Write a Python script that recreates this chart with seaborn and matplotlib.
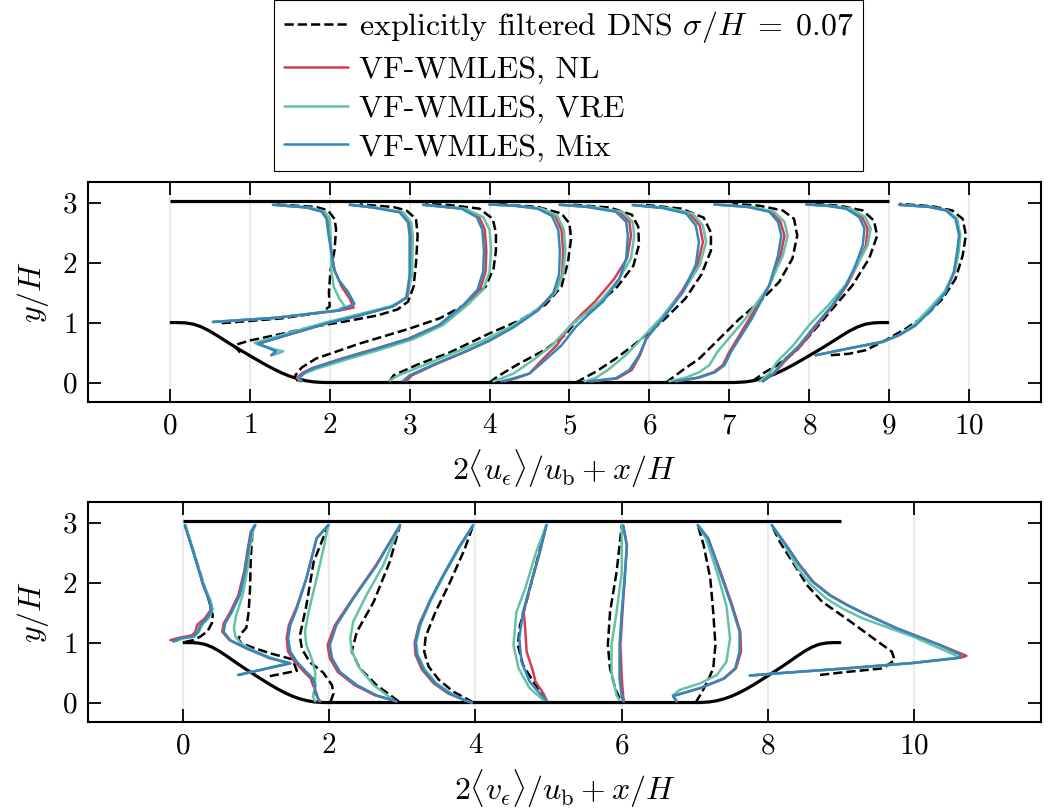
import numpy as np
import matplotlib
matplotlib.use("Agg")
import matplotlib.pyplot as plt
from matplotlib.lines import Line2D
import seaborn as sns

# ---------------------------------------------------------------------------
# Geometry of the periodic hill channel (lengths in units of H)
# ---------------------------------------------------------------------------
hill_x = [0.0, 0.1, 0.2, 0.3, 0.4, 0.5, 0.6, 0.7, 0.8, 0.9, 1.0,
          1.1, 1.2, 1.3, 1.4, 1.5, 1.6, 1.7, 1.8, 1.93]
hill_y = [1.0, 1.0, 0.994, 0.972, 0.925, 0.857, 0.776, 0.691, 0.607, 0.527, 0.448,
          0.371, 0.295, 0.224, 0.160, 0.105, 0.062, 0.030, 0.010, 0.0]
channel_length = 9.0
channel_height = 3.036

stations = [0, 1, 2, 3, 4, 5, 6, 7, 8]

# ---------------------------------------------------------------------------
# Streamwise velocity profiles: station -> (y/H, 2<u>/u_b)
# ---------------------------------------------------------------------------
u_dns = {
    0: ([0.99, 1.07, 1.17, 1.27, 1.50, 1.87, 2.20, 2.56, 2.73, 2.87, 2.93, 2.97],
        [0.65, 1.40, 1.90, 2.00, 1.99, 2.01, 2.06, 2.08, 2.06, 1.98, 1.83, 1.33]),
    1: ([0.50, 0.62, 0.70, 0.84, 0.93, 1.02, 1.12, 1.22, 1.35, 1.60, 2.00, 2.45, 2.73, 2.87, 2.93, 2.97],
        [-0.12, -0.20, 0.0, 0.50, 0.79, 1.20, 1.60, 1.85, 1.98, 2.05, 2.08, 2.10, 2.08, 1.96, 1.79, 1.375]),
    2: ([0.02, 0.12, 0.25, 0.40, 0.65, 0.90, 1.07, 1.30, 1.60, 1.90, 2.20, 2.50, 2.73, 2.90, 2.96, 2.98],
        [-0.40, -0.43, -0.35, -0.17, 0.375, 1.00, 1.375, 1.70, 1.95, 2.05, 2.08, 2.08, 2.04, 1.875, 1.50, 1.20]),
    3: ([0.02, 0.12, 0.30, 0.50, 0.82, 1.05, 1.30, 1.60, 2.00, 2.40, 2.65, 2.82, 2.93, 2.98],
        [-0.25, -0.20, 0.10, 0.50, 1.00, 1.40, 1.70, 1.90, 1.98, 2.02, 2.00, 1.90, 1.60, 1.10]),
    4: ([0.0, 0.10, 0.30, 0.55, 0.80, 1.05, 1.30, 1.60, 1.95, 2.30, 2.60, 2.80, 2.92, 2.97],
        [0.0, 0.10, 0.35, 0.70, 0.95, 1.10, 1.35, 1.60, 1.80, 1.87, 1.86, 1.78, 1.50, 1.00]),
    5: ([0.0, 0.18, 0.40, 0.62, 0.84, 1.07, 1.40, 1.80, 2.20, 2.50, 2.75, 2.90, 2.97],
        [0.08, 0.33, 0.58, 0.80, 1.00, 1.20, 1.45, 1.65, 1.77, 1.77, 1.68, 1.40, 0.90]),
    6: ([0.0, 0.21, 0.40, 0.73, 1.06, 1.34, 1.68, 2.07, 2.45, 2.73, 2.87, 2.95, 2.98],
        [0.21, 0.42, 0.625, 0.875, 1.125, 1.375, 1.625, 1.79, 1.85, 1.81, 1.67, 1.375, 1.04]),
    7: ([0.02, 0.15, 0.29, 0.55, 0.90, 1.29, 1.62, 2.07, 2.45, 2.70, 2.87, 2.95, 2.98],
        [0.29, 0.42, 0.60, 0.85, 1.08, 1.33, 1.54, 1.75, 1.85, 1.81, 1.67, 1.375, 1.04]),
    8: ([0.455, 0.48, 0.54, 0.71, 0.90, 1.12, 1.40, 1.73, 2.12, 2.46, 2.73, 2.87, 2.94, 2.98],
        [0.27, 0.50, 0.71, 0.96, 1.21, 1.46, 1.67, 1.83, 1.92, 1.96, 1.92, 1.79, 1.54, 1.125]),
}

u_nl = {
    0: ([1.01, 1.08, 1.20, 1.25, 1.40, 1.60, 1.87, 2.18, 2.51, 2.73, 2.85, 2.92, 2.965],
        [0.54, 1.33, 2.12, 2.30, 2.25, 2.15, 2.06, 2.02, 1.99, 1.97, 1.91, 1.72, 1.29]),
    1: ([0.455, 0.52, 0.58, 0.645, 0.82, 1.00, 1.12, 1.27, 1.42, 1.79, 2.45, 2.67, 2.84, 2.92, 2.965],
        [0.27, 0.33, 0.23, 0.10, 0.54, 1.00, 1.375, 1.79, 1.97, 2.02, 2.02, 2.00, 1.89, 1.55, 1.25]),
    2: ([0.02, 0.08, 0.16, 0.24, 0.40, 0.56, 0.73, 0.96, 1.29, 1.55, 1.85, 2.20, 2.55, 2.76, 2.90, 2.965],
        [-0.38, -0.41, -0.34, -0.22, 0.15, 0.56, 0.98, 1.37, 1.68, 1.88, 1.95, 1.96, 1.94, 1.87, 1.67, 1.17]),
    3: ([0.03, 0.12, 0.30, 0.52, 0.70, 0.92, 1.20, 1.50, 1.80, 2.20, 2.55, 2.78, 2.90, 2.95, 2.97],
        [-0.04, 0.03, 0.32, 0.71, 1.00, 1.29, 1.60, 1.82, 1.91, 1.92, 1.90, 1.82, 1.63, 1.32, 1.00]),
    4: ([0.02, 0.07, 0.15, 0.38, 0.62, 0.93, 1.15, 1.35, 1.73, 2.07, 2.45, 2.68, 2.85, 2.93, 2.965],
        [0.19, 0.33, 0.50, 0.66, 0.84, 1.00, 1.16, 1.32, 1.56, 1.72, 1.77, 1.75, 1.62, 1.24, 0.88]),
    5: ([0.02, 0.07, 0.21, 0.45, 0.73, 1.07, 1.51, 1.96, 2.34, 2.62, 2.82, 2.91, 2.96],
        [0.28, 0.60, 0.78, 0.88, 0.96, 1.15, 1.40, 1.60, 1.67, 1.63, 1.50, 1.20, 0.80]),
    6: ([0.02, 0.08, 0.17, 0.29, 0.51, 1.06, 1.62, 2.12, 2.45, 2.68, 2.85, 2.93, 2.97],
        [0.33, 0.60, 0.80, 0.92, 1.00, 1.25, 1.50, 1.64, 1.69, 1.64, 1.52, 1.25, 0.83]),
    7: ([0.02, 0.15, 0.35, 0.62, 0.96, 1.29, 1.62, 1.96, 2.29, 2.57, 2.76, 2.90, 2.95, 2.97],
        [0.42, 0.56, 0.69, 0.90, 1.10, 1.30, 1.47, 1.60, 1.71, 1.73, 1.66, 1.49, 1.23, 0.97]),
    8: ([0.455, 0.57, 0.68, 0.79, 0.95, 1.23, 1.51, 1.85, 2.18, 2.46, 2.73, 2.87, 2.93, 2.965],
        [0.08, 0.50, 0.92, 1.125, 1.32, 1.52, 1.70, 1.82, 1.86, 1.88, 1.84, 1.72, 1.50, 1.125]),
}

u_vre = {
    0: ([1.01, 1.08, 1.20, 1.27, 1.40, 1.60, 1.87, 2.18, 2.51, 2.73, 2.85, 2.92, 2.965],
        [0.54, 1.33, 2.08, 2.19, 2.12, 2.05, 2.02, 2.02, 2.01, 2.00, 1.94, 1.75, 1.30]),
    1: ([0.46, 0.52, 0.58, 0.66, 0.83, 1.01, 1.13, 1.27, 1.40, 1.79, 2.45, 2.67, 2.84, 2.92, 2.965],
        [0.30, 0.42, 0.23, 0.06, 0.50, 0.97, 1.34, 1.76, 1.95, 2.03, 2.04, 2.02, 1.92, 1.58, 1.27]),
    2: ([0.02, 0.08, 0.16, 0.24, 0.40, 0.56, 0.73, 0.96, 1.29, 1.55, 1.85, 2.20, 2.55, 2.76, 2.90, 2.965],
        [-0.36, -0.39, -0.30, -0.14, 0.25, 0.66, 1.06, 1.42, 1.72, 1.92, 2.00, 2.02, 2.00, 1.92, 1.70, 1.18]),
    3: ([0.03, 0.12, 0.30, 0.52, 0.70, 0.92, 1.20, 1.50, 1.80, 2.20, 2.55, 2.78, 2.90, 2.95, 2.97],
        [-0.25, -0.14, 0.20, 0.60, 0.92, 1.25, 1.58, 1.82, 1.92, 1.95, 1.93, 1.85, 1.66, 1.35, 1.02]),
    4: ([0.02, 0.07, 0.15, 0.38, 0.62, 0.93, 1.15, 1.35, 1.73, 2.07, 2.45, 2.68, 2.85, 2.93, 2.965],
        [0.05, 0.15, 0.30, 0.55, 0.78, 1.00, 1.20, 1.38, 1.62, 1.77, 1.81, 1.79, 1.66, 1.28, 0.90]),
    5: ([0.02, 0.07, 0.21, 0.45, 0.73, 1.07, 1.51, 1.96, 2.34, 2.62, 2.82, 2.91, 2.96],
        [0.19, 0.32, 0.48, 0.70, 0.90, 1.14, 1.42, 1.63, 1.71, 1.67, 1.54, 1.24, 0.82]),
    6: ([0.02, 0.08, 0.17, 0.29, 0.51, 1.06, 1.62, 2.12, 2.45, 2.68, 2.85, 2.93, 2.97],
        [0.25, 0.45, 0.62, 0.75, 0.85, 1.20, 1.50, 1.67, 1.73, 1.69, 1.56, 1.28, 0.85]),
    7: ([0.02, 0.15, 0.35, 0.62, 0.96, 1.29, 1.62, 1.96, 2.29, 2.57, 2.76, 2.90, 2.95, 2.97],
        [0.38, 0.50, 0.60, 0.80, 1.00, 1.24, 1.45, 1.60, 1.73, 1.77, 1.70, 1.52, 1.25, 0.98]),
    8: ([0.455, 0.57, 0.68, 0.79, 0.95, 1.23, 1.51, 1.85, 2.18, 2.46, 2.73, 2.87, 2.93, 2.965],
        [0.08, 0.50, 0.92, 1.12, 1.30, 1.50, 1.69, 1.82, 1.87, 1.89, 1.85, 1.73, 1.52, 1.13]),
}

u_mix = {
    0: ([1.01, 1.08, 1.205, 1.31, 1.51, 1.70, 1.87, 2.18, 2.51, 2.73, 2.85, 2.92, 2.965],
        [0.54, 1.33, 2.12, 2.31, 2.23, 2.12, 2.06, 2.02, 1.98, 1.96, 1.90, 1.71, 1.29]),
    1: ([0.455, 0.52, 0.58, 0.645, 0.82, 1.00, 1.12, 1.27, 1.42, 1.79, 2.45, 2.67, 2.84, 2.92, 2.965],
        [0.27, 0.33, 0.23, 0.10, 0.54, 1.00, 1.375, 1.79, 1.96, 2.00, 2.00, 1.98, 1.875, 1.54, 1.25]),
    2: ([0.02, 0.08, 0.16, 0.24, 0.40, 0.56, 0.73, 0.96, 1.29, 1.55, 1.85, 2.20, 2.55, 2.76, 2.90, 2.965],
        [-0.35, -0.38, -0.32, -0.20, 0.17, 0.58, 1.00, 1.375, 1.67, 1.85, 1.92, 1.93, 1.91, 1.84, 1.65, 1.17]),
    3: ([0.03, 0.12, 0.30, 0.52, 0.70, 0.92, 1.20, 1.50, 1.80, 2.20, 2.55, 2.78, 2.90, 2.95, 2.97],
        [-0.08, 0.0, 0.30, 0.70, 1.00, 1.30, 1.60, 1.80, 1.87, 1.88, 1.86, 1.78, 1.60, 1.30, 1.00]),
    4: ([0.02, 0.07, 0.15, 0.38, 0.62, 0.93, 1.15, 1.35, 1.73, 2.07, 2.45, 2.68, 2.85, 2.93, 2.965],
        [0.15, 0.30, 0.50, 0.70, 0.90, 1.08, 1.25, 1.42, 1.625, 1.71, 1.73, 1.71, 1.58, 1.21, 0.875]),
    5: ([0.02, 0.07, 0.21, 0.45, 0.73, 1.07, 1.51, 1.96, 2.34, 2.62, 2.82, 2.91, 2.96],
        [0.25, 0.58, 0.75, 0.87, 0.96, 1.17, 1.42, 1.58, 1.62, 1.58, 1.46, 1.17, 0.79]),
    6: ([0.02, 0.08, 0.17, 0.29, 0.51, 1.06, 1.62, 2.12, 2.45, 2.68, 2.85, 2.93, 2.97],
        [0.33, 0.62, 0.82, 0.94, 1.02, 1.28, 1.50, 1.61, 1.65, 1.61, 1.50, 1.22, 0.81]),
    7: ([0.02, 0.15, 0.35, 0.62, 0.96, 1.29, 1.62, 1.96, 2.29, 2.57, 2.76, 2.90, 2.95, 2.97],
        [0.42, 0.55, 0.67, 0.875, 1.08, 1.29, 1.46, 1.58, 1.67, 1.69, 1.625, 1.46, 1.21, 0.96]),
    8: ([0.455, 0.57, 0.68, 0.79, 0.95, 1.23, 1.51, 1.85, 2.18, 2.46, 2.73, 2.87, 2.93, 2.965],
        [0.08, 0.50, 0.92, 1.125, 1.33, 1.54, 1.71, 1.81, 1.85, 1.875, 1.83, 1.71, 1.50, 1.125]),
}

# ---------------------------------------------------------------------------
# Wall-normal velocity profiles: station -> (y/H, 2<v>/u_b)
# ---------------------------------------------------------------------------
v_dns = {
    0: ([1.01, 1.04, 1.10, 1.19, 1.33, 1.45, 1.62, 1.96, 2.51, 2.96],
        [0.03, 0.14, 0.24, 0.34, 0.40, 0.41, 0.38, 0.29, 0.15, 0.03]),
    1: ([0.44, 0.53, 0.72, 0.82, 0.92, 0.99, 1.06, 1.15, 1.25, 1.50, 1.90, 2.40, 2.80, 2.96],
        [0.19, 0.56, 0.50, 0.20, -0.05, -0.20, -0.24, -0.20, -0.13, -0.10, -0.08, -0.07, -0.05, -0.02]),
    2: ([0.01, 0.15, 0.29, 0.50, 0.67, 0.89, 1.11, 1.62, 2.35, 2.96],
        [0.02, 0.06, 0.04, -0.08, -0.26, -0.37, -0.40, -0.31, -0.21, -0.01]),
    3: ([0.02, 0.29, 0.57, 0.85, 1.18, 1.68, 2.35, 2.96],
        [-0.05, -0.35, -0.58, -0.69, -0.62, -0.39, -0.17, -0.03]),
    4: ([0.0, 0.05, 0.18, 0.38, 0.60, 0.85, 1.10, 1.50, 2.00, 2.55, 2.96],
        [-0.03, -0.10, -0.30, -0.50, -0.64, -0.70, -0.68, -0.55, -0.35, -0.15, -0.03]),
    5: ([0.04, 0.12, 0.35, 0.63, 0.96, 1.29, 1.79, 2.45, 2.96],
        [-0.03, -0.07, -0.21, -0.35, -0.42, -0.39, -0.28, -0.14, -0.03]),
    6: ([0.07, 0.24, 0.57, 0.96, 1.51, 2.18, 2.96],
        [-0.03, -0.09, -0.16, -0.19, -0.16, -0.07, 0.0]),
    7: ([0.0, 0.18, 0.40, 0.57, 0.96, 1.51, 2.07, 2.62, 2.96],
        [0.01, 0.10, 0.19, 0.25, 0.28, 0.25, 0.21, 0.12, 0.04]),
    8: ([0.46, 0.51, 0.57, 0.71, 0.85, 1.07, 1.40, 1.68, 1.96, 2.24, 2.68, 2.96],
        [0.71, 1.07, 1.57, 1.73, 1.69, 1.44, 1.07, 0.74, 0.53, 0.39, 0.16, 0.05]),
}

v_nl = {
    0: ([1.04, 1.08, 1.12, 1.17, 1.30, 1.40, 1.54, 1.68, 1.96, 2.51, 2.96],
        [-0.17, -0.05, 0.12, 0.17, 0.20, 0.30, 0.38, 0.37, 0.28, 0.145, 0.03]),
    1: ([0.46, 0.655, 0.74, 0.905, 1.04, 1.18, 1.32, 1.51, 1.79, 2.18, 2.57, 2.85, 2.96],
        [-0.24, 0.47, 0.19, -0.13, -0.36, -0.46, -0.44, -0.35, -0.24, -0.16, -0.11, -0.07, -0.01]),
    2: ([0.02, 0.15, 0.29, 0.40, 0.51, 0.68, 0.85, 1.07, 1.29, 1.57, 2.07, 2.74, 2.96],
        [-0.14, -0.17, -0.22, -0.25, -0.34, -0.47, -0.56, -0.58, -0.55, -0.45, -0.31, -0.17, -0.01]),
    3: ([0.02, 0.12, 0.29, 0.51, 0.74, 0.96, 1.29, 1.73, 2.29, 2.96],
        [-0.08, -0.37, -0.65, -0.88, -0.99, -1.02, -0.92, -0.68, -0.36, -0.03]),
    4: ([0.0, 0.04, 0.15, 0.32, 0.55, 0.80, 1.00, 1.30, 1.70, 2.10, 2.60, 2.96],
        [-0.05, -0.15, -0.37, -0.57, -0.73, -0.82, -0.83, -0.77, -0.62, -0.45, -0.22, -0.03]),
    5: ([0.04, 0.15, 0.35, 0.51, 0.85, 1.24, 1.51, 1.90, 2.51, 2.96],
        [-0.03, -0.07, -0.18, -0.21, -0.30, -0.32, -0.34, -0.26, -0.12, -0.03]),
    6: ([0.02, 0.10, 0.40, 0.96, 1.51, 2.07, 2.62, 2.95],
        [0.03, 0.02, 0.0, -0.02, 0.01, 0.04, 0.07, 0.02]),
    7: ([0.02, 0.11, 0.14, 0.24, 0.40, 0.57, 0.85, 1.18, 1.62, 2.18, 2.74, 2.96],
        [-0.25, -0.30, -0.21, 0.07, 0.40, 0.56, 0.63, 0.62, 0.51, 0.35, 0.18, 0.04]),
    8: ([0.45, 0.49, 0.57, 0.66, 0.75, 0.78, 0.96, 1.24, 1.49, 1.63, 1.79, 2.01, 2.30, 2.62, 2.96],
        [-0.25, 0.16, 1.07, 1.98, 2.64, 2.71, 2.35, 1.76, 1.31, 1.08, 0.85, 0.62, 0.43, 0.25, 0.05]),
}

v_vre = {
    0: ([1.02, 1.07, 1.10, 1.20, 1.30, 1.42, 1.56, 1.70, 1.96, 2.51, 2.96],
        [-0.10, 0.0, 0.16, 0.23, 0.27, 0.36, 0.41, 0.38, 0.29, 0.15, 0.04]),
    1: ([0.46, 0.655, 0.75, 0.88, 0.98, 1.10, 1.25, 1.45, 1.80, 2.20, 2.60, 2.85, 2.96],
        [-0.24, 0.45, 0.20, -0.05, -0.20, -0.28, -0.30, -0.27, -0.18, -0.12, -0.08, -0.04, -0.01]),
    2: ([0.02, 0.10, 0.29, 0.51, 0.74, 0.96, 1.18, 1.51, 2.07, 2.60, 2.96],
        [-0.19, -0.22, -0.19, -0.19, -0.24, -0.31, -0.33, -0.28, -0.17, -0.07, -0.01]),
    3: ([0.04, 0.29, 0.57, 0.85, 1.07, 1.35, 1.79, 2.29, 2.96],
        [-0.12, -0.39, -0.58, -0.69, -0.71, -0.67, -0.49, -0.26, -0.03]),
    4: ([0.0, 0.04, 0.15, 0.32, 0.55, 0.80, 1.00, 1.30, 1.70, 2.10, 2.60, 2.96],
        [-0.05, -0.14, -0.33, -0.53, -0.69, -0.79, -0.81, -0.75, -0.61, -0.44, -0.21, -0.03]),
    5: ([0.04, 0.24, 0.57, 0.96, 1.51, 1.90, 2.51, 2.96],
        [-0.07, -0.26, -0.41, -0.48, -0.44, -0.32, -0.17, -0.03]),
    6: ([0.04, 0.12, 0.51, 0.96, 1.51, 2.18, 2.96],
        [-0.03, -0.07, -0.14, -0.14, -0.07, 0.0, 0.0]),
    7: ([0.03, 0.12, 0.21, 0.32, 0.46, 0.68, 1.07, 1.62, 2.18, 2.74, 2.96],
        [-0.25, -0.30, -0.21, 0.07, 0.30, 0.43, 0.48, 0.43, 0.30, 0.15, 0.04]),
    8: ([0.45, 0.49, 0.57, 0.66, 0.75, 0.79, 1.10, 1.40, 1.56, 1.73, 1.97, 2.25, 2.62, 2.96],
        [-0.25, 0.16, 1.07, 1.98, 2.59, 2.56, 1.98, 1.30, 1.03, 0.80, 0.58, 0.40, 0.23, 0.05]),
}

v_mix = {
    0: ([1.016, 1.07, 1.10, 1.18, 1.29, 1.40, 1.54, 1.68, 1.96, 2.51, 2.96],
        [-0.13, -0.04, 0.145, 0.21, 0.24, 0.33, 0.39, 0.37, 0.28, 0.145, 0.03]),
    1: ([0.46, 0.655, 0.74, 0.905, 1.04, 1.18, 1.32, 1.51, 1.79, 2.18, 2.57, 2.85, 2.96],
        [-0.24, 0.47, 0.19, -0.13, -0.35, -0.44, -0.42, -0.33, -0.22, -0.15, -0.10, -0.06, -0.01]),
    2: ([0.02, 0.15, 0.29, 0.40, 0.51, 0.68, 0.85, 1.07, 1.29, 1.57, 2.07, 2.74, 2.96],
        [-0.12, -0.19, -0.19, -0.22, -0.31, -0.44, -0.53, -0.56, -0.53, -0.44, -0.31, -0.17, -0.01]),
    3: ([0.02, 0.12, 0.29, 0.51, 0.74, 0.96, 1.29, 1.73, 2.29, 2.96],
        [-0.08, -0.35, -0.62, -0.85, -0.96, -0.99, -0.90, -0.67, -0.35, -0.03]),
    4: ([0.0, 0.04, 0.15, 0.32, 0.55, 0.80, 1.00, 1.30, 1.70, 2.10, 2.60, 2.96],
        [-0.05, -0.15, -0.35, -0.55, -0.71, -0.80, -0.82, -0.76, -0.62, -0.45, -0.22, -0.03]),
    5: ([0.04, 0.15, 0.35, 0.68, 1.07, 1.51, 1.90, 2.51, 2.96],
        [-0.03, -0.12, -0.26, -0.37, -0.40, -0.35, -0.26, -0.12, -0.03]),
    6: ([0.02, 0.10, 0.40, 0.96, 1.51, 2.07, 2.62, 2.95],
        [0.02, 0.0, -0.03, -0.03, 0.0, 0.04, 0.07, 0.02]),
    7: ([0.02, 0.11, 0.14, 0.24, 0.40, 0.57, 0.85, 1.18, 1.62, 2.18, 2.74, 2.96],
        [-0.25, -0.30, -0.21, 0.07, 0.39, 0.55, 0.61, 0.61, 0.50, 0.34, 0.18, 0.04]),
    8: ([0.45, 0.49, 0.57, 0.66, 0.74, 0.79, 0.96, 1.24, 1.49, 1.63, 1.79, 2.01, 2.30, 2.62, 2.96],
        [-0.25, 0.16, 1.07, 1.98, 2.58, 2.64, 2.34, 1.75, 1.30, 1.07, 0.84, 0.61, 0.42, 0.25, 0.05]),
}

labels = [r"explicitly filtered DNS $\sigma/H\;=\;0.07$",
          "VF-WMLES, NL", "VF-WMLES, VRE", "VF-WMLES, Mix"]
colors = ["black", "#d53e4f", "#66c2a5", "#3288bd"]

# ---------------------------------------------------------------------------
# Style
# ---------------------------------------------------------------------------
sns.set_style("ticks")
plt.rcParams.update({
    "font.family": ["cmr10", "DejaVu Serif"],
    "mathtext.fontset": "cm",
    "axes.formatter.use_mathtext": True,
    "axes.unicode_minus": False,
    "axes.linewidth": 1.5,
    "axes.edgecolor": "black",
    "text.color": "black",
    "xtick.color": "black",
    "ytick.color": "black",
    "axes.labelcolor": "black",
})

FS_TICK = 21
FS_LABEL = 23
FS_LEG = 23
LW = 1.8

fig = plt.figure(figsize=(10.49, 8.11), dpi=100)
ax_u = fig.add_axes([0.0842, 0.5047, 0.9082, 0.2705])
ax_v = fig.add_axes([0.0842, 0.1101, 0.9082, 0.2705])


def draw_walls(ax):
    wall_x = np.concatenate([hill_x, channel_length - np.asarray(hill_x)[::-1]])
    wall_y = np.concatenate([hill_y, np.asarray(hill_y)[::-1]])
    ax.plot(wall_x, wall_y, color="black", lw=2.3, zorder=2, solid_capstyle="butt")
    ax.plot([0.0, channel_length], [channel_height, channel_height],
            color="black", lw=2.3, zorder=2, solid_capstyle="butt")


def draw_profiles(ax, profiles, color, ls, zorder):
    for s in stations:
        y, val = profiles[s]
        sns.lineplot(x=s + np.asarray(val), y=np.asarray(y), sort=False,
                     estimator=None, color=color, linestyle=ls, lw=LW,
                     ax=ax, zorder=zorder)


def style_axis(ax, xticks, xlim, xlabel):
    ax.set_xlim(*xlim)
    ax.set_ylim(-0.32, 3.34)
    ax.set_xticks(xticks)
    ax.set_yticks([0, 1, 2, 3])
    ax.grid(axis="x", color="#ebebeb", lw=1.6, zorder=0)
    ax.grid(axis="y", visible=False)
    ax.set_axisbelow(True)
    ax.tick_params(direction="in", top=True, right=True, length=9.5,
                   width=1.3, labelsize=FS_TICK, pad=8)
    ax.set_xlabel(xlabel, fontsize=FS_LABEL, labelpad=6)
    ax.set_ylabel(r"$y/H$", fontsize=FS_LABEL, labelpad=8)
    for sp in ax.spines.values():
        sp.set_linewidth(1.5)


for ax, series in [(ax_u, [u_dns, u_nl, u_vre, u_mix]),
                   (ax_v, [v_dns, v_nl, v_vre, v_mix])]:
    draw_walls(ax)
    for k, (prof, col) in enumerate(zip(series, colors)):
        draw_profiles(ax, prof, col, "--" if k == 0 else "-", 3 + k)

style_axis(ax_u, range(0, 11), (-1.02, 10.9),
           r"$2\langle u_\epsilon\rangle/u_\mathrm{b} + x/H$")
style_axis(ax_v, range(0, 11, 2), (-1.29, 11.73),
           r"$2\langle v_\epsilon\rangle/u_\mathrm{b} + x/H$")

handles = [Line2D([], [], color=c, lw=LW, ls="--" if i == 0 else "-")
           for i, c in enumerate(colors)]
leg = fig.legend(handles, labels, loc="lower center",
                 bbox_to_anchor=(0.542, 0.789), fontsize=FS_LEG,
                 frameon=True, fancybox=False, edgecolor="black",
                 framealpha=1.0, handlelength=2.0, handletextpad=0.35,
                 labelspacing=0.32, borderpad=0.3, borderaxespad=0.0)
leg.get_frame().set_linewidth(0.8)

fig.savefig("out.png", dpi=100)
